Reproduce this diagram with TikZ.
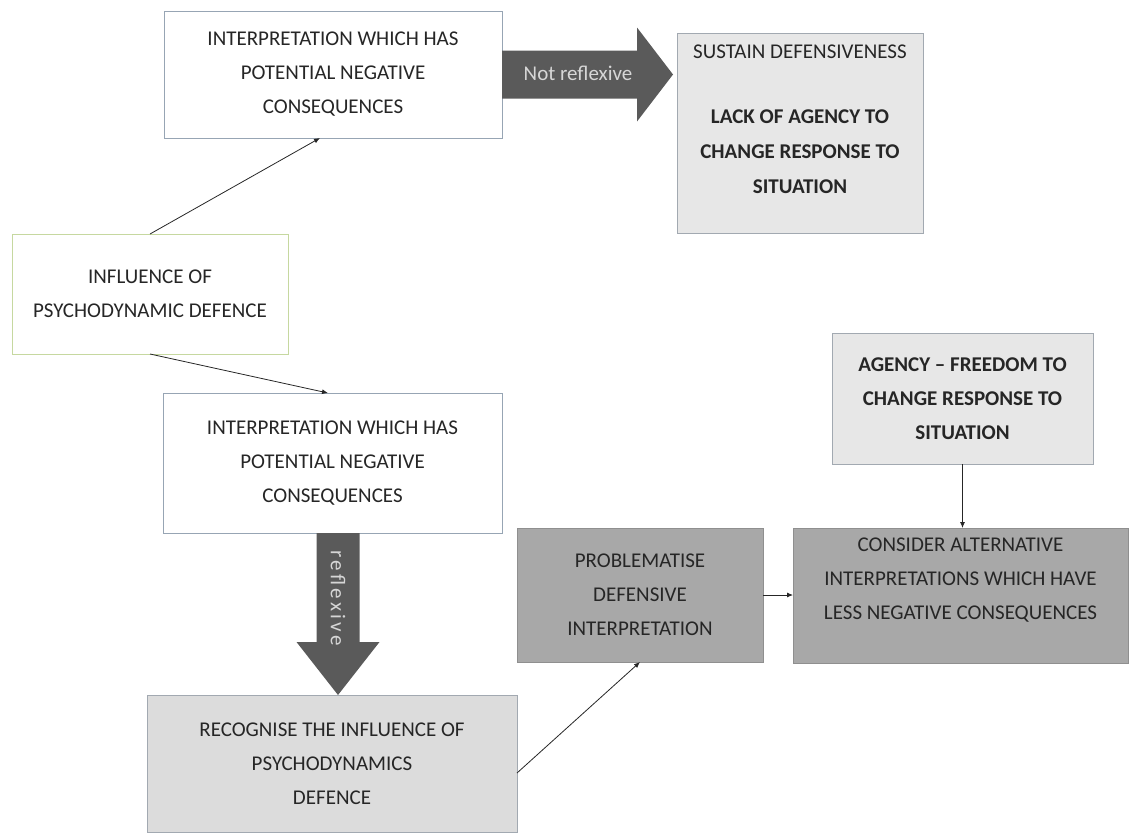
\documentclass[tikz,border=0pt]{standalone}
\usepackage{fontspec}
\setmainfont{Carlito}
\usetikzlibrary{calc,arrows.meta}

\definecolor{ink}{HTML}{262626}
\definecolor{edgeblue}{HTML}{97A5B4}
\definecolor{edgegreen}{HTML}{C6D8A0}
\definecolor{edgegrey}{HTML}{A2A9B1}
\definecolor{palefill}{HTML}{E7E7E7}
\definecolor{lightfill}{HTML}{DCDCDC}
\definecolor{midfill}{HTML}{A8A8A8}
\definecolor{arrowfill}{HTML}{5A5A5A}
\definecolor{arrowtext}{HTML}{D6D6D6}

\begin{document}
\begin{tikzpicture}[x=1pt, y=-1pt,
  every node/.style={inner sep=0pt, outer sep=0pt},
  txt/.style={align=center, text=ink, font=\fontsize{21}{34}\selectfont},
  box/.style={txt, draw=edgeblue, line width=0.9pt, fill=white},
  greenbox/.style={box, draw=edgegreen},
  palebox/.style={box, draw=edgegrey, fill=palefill},
  lightbox/.style={box, draw=edgegrey, fill=lightfill},
  darkbox/.style={box, draw=midfill!85!black, fill=midfill},
  link/.style={draw=ink, line width=0.8pt, -{Latex[length=6pt,width=5pt]}},
  bigarrow/.style={fill=arrowfill},
  arrowlabel/.style={text=arrowtext, font=\fontsize{21}{25}\selectfont}
]
\useasboundingbox (0,0) rectangle (1135,833);

% boxes
\node[box, minimum width=338pt, minimum height=127pt] (b1) at (333,74.5)
  {INTERPRETATION WHICH HAS\\POTENTIAL NEGATIVE\\CONSEQUENCES};
\node[palebox, minimum width=246pt, minimum height=200pt] (sust) at (800,133) {};
\node[txt] (sushead) at (800,52) {SUSTAIN DEFENSIVENESS};
\node[txt, font=\fontsize{21}{35}\selectfont\bfseries] (susbody) at (800,152)
  {LACK OF AGENCY TO\\CHANGE RESPONSE TO\\SITUATION};

\node[greenbox, minimum width=276pt, minimum height=120pt] (infl) at (150,294)
  {INFLUENCE OF\\PSYCHODYNAMIC DEFENCE};

\node[box, minimum width=339pt, minimum height=140pt] (b2) at (332.5,463)
  {INTERPRETATION WHICH HAS\\POTENTIAL NEGATIVE\\CONSEQUENCES};

\node[lightbox, minimum width=370pt, minimum height=137pt] (rec) at (332,763.5)
  {RECOGNISE THE INFLUENCE OF\\PSYCHODYNAMICS\\DEFENCE};

\node[darkbox, minimum width=246pt, minimum height=134pt] (prob) at (640,595)
  {PROBLEMATISE\\DEFENSIVE\\INTERPRETATION};

\node[palebox, minimum width=261pt, minimum height=131pt,
      font=\fontsize{21}{34}\selectfont\bfseries] (agency) at (962.5,398.5)
  {AGENCY -- FREEDOM TO\\CHANGE RESPONSE TO\\SITUATION};

\node[darkbox, minimum width=335pt, minimum height=135pt] (cons) at (960.5,595.5) {};
\node[txt] (constxt) at (960.5,580)
  {CONSIDER ALTERNATIVE\\INTERPRETATIONS WHICH HAVE\\LESS NEGATIVE CONSEQUENCES};

% block arrow: not reflexive
\fill[bigarrow] ($(b1.east)+(0,-24)$) -- ($(b1.east)+(135,-24)$)
  -- ($(b1.east)+(135,-47)$) -- ($(b1.east)+(171,0)$)
  -- ($(b1.east)+(135,47)$) -- ($(b1.east)+(135,24)$)
  -- ($(b1.east)+(0,24)$) -- cycle;
\node[arrowlabel] (nrlab) at ($(b1.east)+(76,-1)$) {Not reflexive};

% block arrow: reflexive
\fill[bigarrow] ($(b2.south)+(-16,0)$) -- ($(b2.south)+(-16,109)$)
  -- ($(b2.south)+(-36,109)$) -- ($(b2.south)+(5.5,162)$)
  -- ($(b2.south)+(47,109)$) -- ($(b2.south)+(27,109)$)
  -- ($(b2.south)+(27,0)$) -- cycle;
\node[arrowlabel, rotate=-90, font=\fontsize{21}{25}\selectfont\addfontfeature{LetterSpace=16}]
  (rlab) at ($(b2.south)+(5.5,65)$) {reflexive};

% connectors
\draw[link] (infl.north) -- ($(b1.south)+(-13,0)$);
\draw[link] (infl.south) -- ($(b2.north)+(-4.5,0)$);
\draw[link] ($(rec.east)+(0,9.5)$) -- (prob.south);
\draw[link] (prob.east) -- (cons.west |- prob.east);
\draw[link] (agency.south) -- (agency.south |- cons.north);
\end{tikzpicture}
\end{document}
